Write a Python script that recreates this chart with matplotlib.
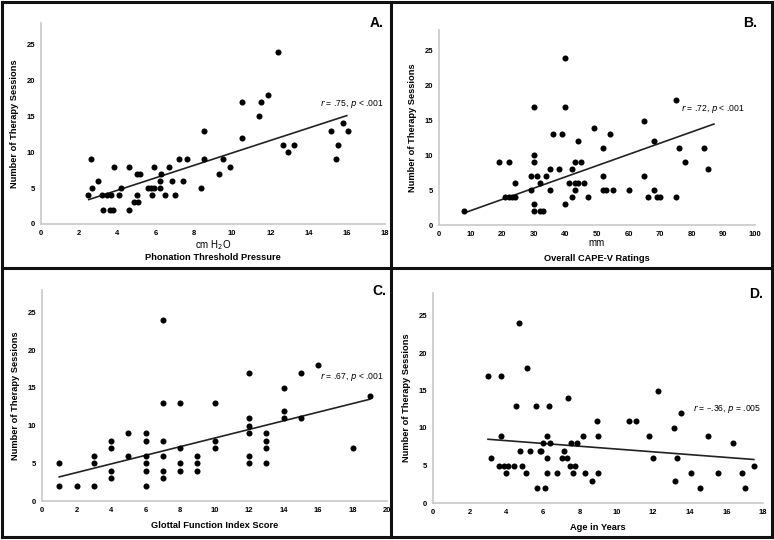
import matplotlib
matplotlib.use("Agg")
import matplotlib.pyplot as plt
from matplotlib.lines import Line2D
import numpy as np

plt.rcParams['font.family'] = ['Liberation Sans', 'DejaVu Sans']

# Panel A - phonation threshold pressure (cm H2O)
ptp_x = [2.45, 2.6, 2.65, 3.0, 3.2, 3.25, 3.45, 3.6, 3.65, 3.75, 3.8, 4.1, 4.2, 4.6, 4.6,
         4.85, 5.0, 5.0, 5.1, 5.2, 5.6, 5.75, 5.8, 5.9, 5.9, 6.25, 6.3, 6.25, 6.5, 6.7,
         6.85, 7.0, 7.2, 7.45, 7.65, 8.35, 8.55, 8.55, 9.3, 9.5, 9.9, 10.5, 10.5, 11.4,
         11.5, 11.9, 12.4, 12.65, 12.95, 13.25, 15.2, 15.45, 15.55, 15.8, 16.05]
ptp_y = [4, 9, 5, 6, 4, 2, 4, 2, 4, 2, 8, 4, 5, 8, 2,
         3, 4, 7, 3, 7, 5, 5, 4, 8, 5, 6, 7, 5, 4, 8,
         6, 4, 9, 6, 9, 5, 13, 9, 7, 9, 8, 12, 17, 15,
         17, 18, 24, 11, 10, 11, 13, 9, 11, 14, 13]
ptp_fit_x = [2.5, 16.0]
ptp_fit_y = [3.4, 15.1]

# Panel B - overall CAPE-V (mm)
cape_x = [8, 19, 22, 21, 22, 23, 24, 24, 29, 29, 30, 30, 30, 30, 30, 31, 32, 32, 33, 34,
          35, 35, 36, 38, 39, 40, 40, 40, 41, 42, 42, 43, 43, 43, 44, 44, 45, 46, 47, 49,
          52, 52, 52, 53, 54, 55, 60, 65, 65, 66, 68, 68, 69, 70, 75, 75, 76, 78, 84, 85]
cape_y = [2, 9, 9, 4, 4, 4, 4, 6, 7, 5, 10, 9, 17, 3, 2, 7, 6, 2, 2, 7,
          8, 5, 13, 8, 13, 24, 17, 3, 6, 8, 4, 9, 6, 5, 12, 6, 9, 6, 4, 14,
          11, 7, 5, 5, 13, 5, 5, 15, 7, 4, 12, 5, 4, 4, 18, 4, 11, 9, 11, 8]
cape_fit_x = [9, 87]
cape_fit_y = [1.9, 14.5]

# Panel C - glottal function index
gfi_x = [1, 1, 2, 3, 3, 3, 4, 4, 4, 4, 5, 5, 6, 6, 6, 6, 6, 6, 7, 7, 7, 7, 7, 7,
         8, 8, 8, 8, 9, 9, 9, 10, 10, 10, 12, 12, 12, 12, 12, 12, 13, 13, 13, 13,
         14, 14, 14, 15, 15, 16, 18, 19]
gfi_y = [5, 2, 2, 6, 5, 2, 8, 7, 4, 3, 9, 6, 9, 8, 6, 5, 4, 2, 24, 13, 8, 6, 4, 3,
         13, 7, 5, 4, 6, 5, 4, 13, 8, 7, 17, 11, 10, 9, 6, 5, 9, 8, 7, 5,
         15, 12, 11, 17, 11, 18, 7, 14]
gfi_fit_x = [1, 19]
gfi_fit_y = [3.2, 13.5]

# Panel D - age in years
age_x = [2.98, 3.15, 3.6, 3.73, 3.7, 3.85, 4.0, 4.1, 4.4, 4.5, 4.7, 4.72, 4.85, 5.05,
         5.15, 5.27, 5.6, 5.65, 5.85, 5.9, 5.98, 6.1, 6.22, 6.24, 6.2, 6.3, 6.38, 6.75,
         7.04, 7.15, 7.3, 7.36, 7.47, 7.55, 7.64, 7.73, 7.85, 8.2, 8.3, 8.65, 8.93, 8.98,
         8.98, 10.7, 11.05, 11.8, 12.0, 12.25, 13.16, 13.22, 13.3, 13.5, 14.07, 14.58,
         14.98, 15.55, 16.35, 16.87, 17.0, 17.5]
age_y = [17, 6, 5, 17, 9, 5, 4, 5, 5, 13, 24, 7, 5, 4,
         18, 7, 13, 2, 7, 7, 8, 2, 9, 6, 4, 13, 8, 4,
         6, 7, 6, 14, 5, 8, 4, 5, 8, 9, 4, 3, 11, 9,
         4, 11, 11, 9, 6, 15, 10, 3, 6, 12, 4, 2,
         9, 4, 8, 4, 2, 5]
age_fit_x = [3.0, 17.5]
age_fit_y = [8.5, 5.8]

panels = [
    dict(x=ptp_x, y=ptp_y, fx=ptp_fit_x, fy=ptp_fit_y, xmax=18, xstep=2,
         letter='A.', unit='cm H$_2$O', unit_y=-0.105,
         xlabel='Phonation Threshold Pressure', stat=('.75', '< .001'),
         box=(41, 385, 224, 23), txt=(14.6, 15.9), let=(384, 16)),
    dict(x=cape_x, y=cape_y, fx=cape_fit_x, fy=cape_fit_y, xmax=100, xstep=10,
         letter='B.', unit='mm', unit_y=-0.094,
         xlabel='Overall CAPE-V Ratings', stat=('.72', '< .001'),
         box=(439, 755, 225, 30), txt=(76.5, 15.8), let=(757, 16)),
    dict(x=gfi_x, y=gfi_y, fx=gfi_fit_x, fy=gfi_fit_y, xmax=20, xstep=2,
         letter='C.', unit=None, unit_y=None,
         xlabel='Glottal Function Index Score', stat=('.67', '< .001'),
         box=(42, 387, 501, 290), txt=(16.1, 15.6), let=(386, 284)),
    dict(x=age_x, y=age_y, fx=age_fit_x, fy=age_fit_y, xmax=18, xstep=2,
         letter='D.', unit=None, unit_y=None,
         xlabel='Age in Years', stat=('\u2013.36', '= .005'),
         box=(433, 763, 503, 293), txt=(14.2, 11.7), let=(763, 287)),
]

W, H = 774, 540
fig = plt.figure(figsize=(W / 100, H / 100), dpi=100)

for p in panels:
    x0, x1, yb, yt = p['box']
    ax = fig.add_axes([x0 / W, 1 - yb / H, (x1 - x0) / W, (yb - yt) / H])
    ax.scatter(p['x'], p['y'], s=19, color='black', zorder=3, linewidths=0)
    ax.plot(p['fx'], p['fy'], color='#222222', lw=1.2, zorder=2)
    ax.set_xlim(0, p['xmax'])
    ax.set_ylim(0, 28)
    ax.set_xticks(np.arange(0, p['xmax'] + 1, p['xstep']))
    ax.set_yticks(np.arange(0, 26, 5))
    ax.tick_params(length=0, labelsize=5.5, pad=4)
    for t in ax.get_xticklabels() + ax.get_yticklabels():
        t.set_fontweight('bold')
    for s in ['top', 'right']:
        ax.spines[s].set_visible(False)
    for s in ['left', 'bottom']:
        ax.spines[s].set_color('#c8c8c8')
        ax.spines[s].set_linewidth(1.2)
    ax.set_ylabel('Number of Therapy Sessions', fontsize=6.7, fontweight='bold', labelpad=6)
    if p['unit']:
        ax.text(0.5, p['unit_y'], p['unit'], transform=ax.transAxes, ha='center',
                va='center', fontsize=7)
        ax.set_xlabel(p['xlabel'], fontsize=6.7, fontweight='bold', labelpad=12)
    else:
        ax.set_xlabel(p['xlabel'], fontsize=6.7, fontweight='bold', labelpad=5)
    r, pv = p['stat']
    ax.text(p['txt'][0], p['txt'][1],
            '$\\it{r}$ = ' + r + ', $\\it{p}$ ' + pv, fontsize=6.2, ha='left', va='bottom')
    fig.text(p['let'][0] / W, 1 - p['let'][1] / H, p['letter'], fontsize=10,
             fontweight='bold', ha='right', va='top')

# panel frames
lw = 2.2
for seg in [((2, 772), (2, 2)), ((2, 772), (537, 537)), ((2, 2), (2, 537)),
            ((772, 772), (2, 537)), ((391, 391), (2, 537)), ((2, 772), (268, 268))]:
    fig.add_artist(Line2D([seg[0][0] / W, seg[0][1] / W],
                          [1 - seg[1][0] / H, 1 - seg[1][1] / H],
                          color='#111111', lw=lw, zorder=10))

fig.savefig('out.png', dpi=100)
